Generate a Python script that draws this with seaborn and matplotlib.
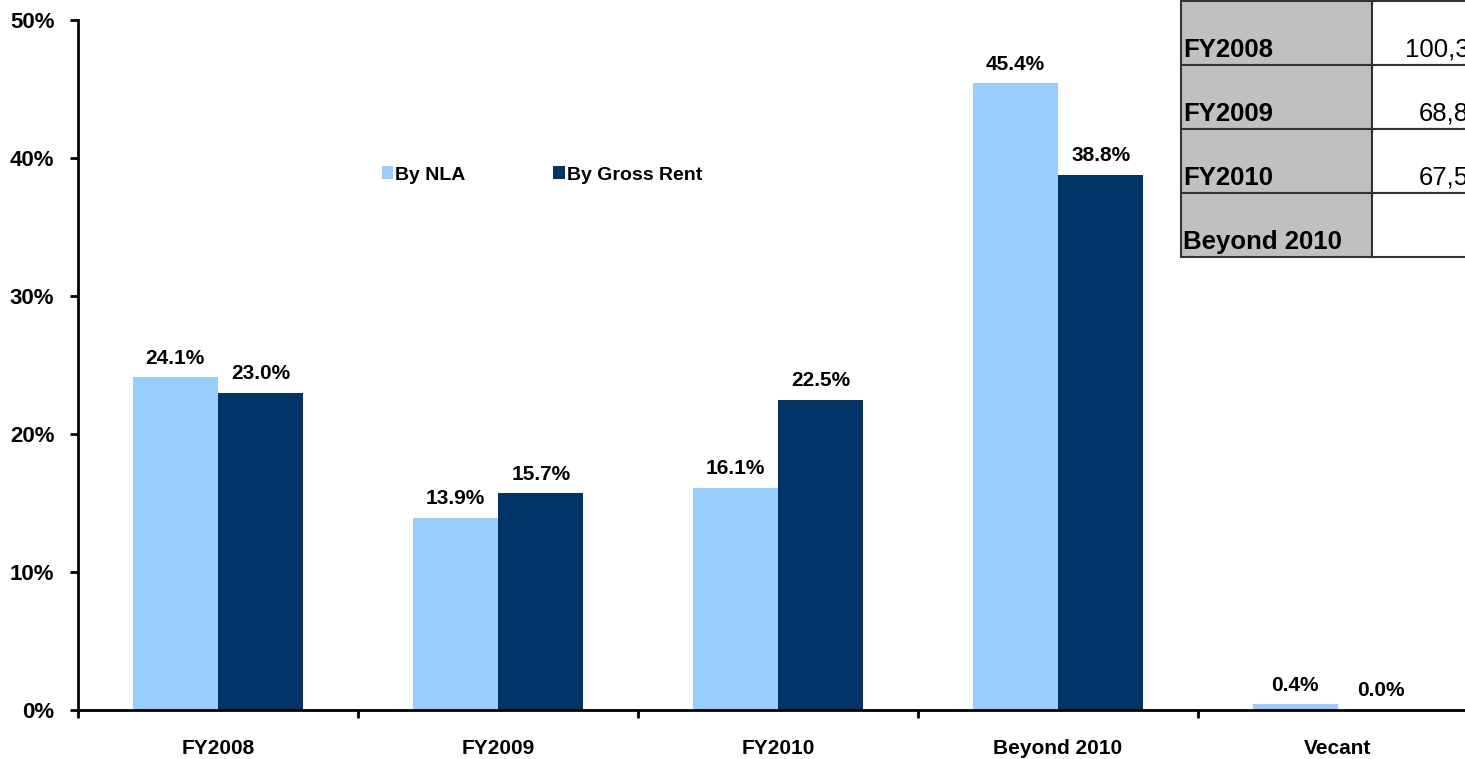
import numpy as np
import pandas as pd
import matplotlib
matplotlib.use("Agg")
import matplotlib.pyplot as plt
import seaborn as sns
from matplotlib.patches import Rectangle
from matplotlib.ticker import FuncFormatter

# chart data
categories = ["FY2008", "FY2009", "FY2010", "Beyond 2010", "Vecant"]
by_nla = [24.1, 13.9, 16.1, 45.4, 0.4]
by_gross_rent = [23.0, 15.7, 22.5, 38.8, 0.0]
series_names = ["By NLA", "By Gross Rent"]
series_colors = ["#99CCFF", "#003366"]

# overlapping table (top right), cut off by the figure edge as in the source
table_rows = ["FY2008", "FY2009", "FY2010", "Beyond 2010"]
table_values = ["100,3", "68,8", "67,5", ""]

df = pd.DataFrame({
    "category": categories * 2,
    "value": by_nla + by_gross_rent,
    "series": [series_names[0]] * len(categories) + [series_names[1]] * len(categories),
})

sns.set_theme(style="white")
plt.rcParams["font.family"] = ["Liberation Sans", "DejaVu Sans"]
plt.rcParams["text.color"] = "black"
plt.rcParams["xtick.color"] = "black"
plt.rcParams["ytick.color"] = "black"

W, H = 1465, 759
fig = plt.figure(figsize=(W / 100, H / 100), dpi=100)
ax = fig.add_axes([78 / W, 1 - 710 / H, 1400 / W, 690 / H])

sns.barplot(data=df, x="category", y="value", hue="series", order=categories,
            hue_order=series_names, palette=series_colors, width=0.61,
            saturation=1, ax=ax, edgecolor="none", linewidth=0)

for cont in ax.containers:
    ax.bar_label(cont, labels=[f"{v:.1f}%" for v in cont.datavalues],
                 padding=7, fontsize=15, fontweight="bold", color="black")

ax.set_xlim(-0.5, len(categories) - 0.5)
ax.set_ylim(0, 50)
ax.set_yticks(np.arange(0, 51, 10))
ax.yaxis.set_major_formatter(FuncFormatter(lambda v, p: f"{v:.0f}%"))
ax.set_xlabel("")
ax.set_ylabel("")

# ticks at the category boundaries, labels centred
ax.set_xticks(np.arange(len(categories)))
ax.set_xticklabels(categories, fontsize=15, fontweight="bold")
ax.set_xticks(np.arange(len(categories) + 1) - 0.5, minor=True)
ax.tick_params(axis="x", which="major", length=0, pad=21)
ax.tick_params(axis="x", which="minor", length=6, width=2, direction="out", color="black", bottom=True)
ax.tick_params(axis="y", length=6, width=2, direction="out", color="black", left=True,
               labelsize=16, pad=11)
for lab in ax.get_yticklabels():
    lab.set_fontweight("bold")

for s in ["top", "right"]:
    ax.spines[s].set_visible(False)
for s in ["left", "bottom"]:
    ax.spines[s].set_color("black")
    ax.spines[s].set_linewidth(2)

leg = ax.legend(loc="upper left", bbox_to_anchor=(286 / 1400, 1 - 129 / 690), ncol=2,
                frameon=False, handlelength=0.6, handleheight=0.6, handletextpad=0.1,
                columnspacing=4.5, prop={"weight": "bold", "size": 14})

# table overlay in pixel coordinates
def px(x, y):
    return x / W, 1 - y / H

row_edges = [1, 65, 129, 193, 257]
value_left = [1405, 1419, 1419, 1419]
x0, x1, x2 = 1181, 1372, 1480
for i, (name, val) in enumerate(zip(table_rows, table_values)):
    top, bot = row_edges[i], row_edges[i + 1]
    fig.patches.append(Rectangle(px(x0, bot), (x1 - x0) / W, (bot - top) / H,
                                 transform=fig.transFigure, facecolor="#C0C0C0",
                                 edgecolor="#333333", linewidth=1.5, zorder=5))
    fig.patches.append(Rectangle(px(x1, bot), (x2 - x1) / W, (bot - top) / H,
                                 transform=fig.transFigure, facecolor="white",
                                 edgecolor="#333333", linewidth=1.5, zorder=5))
    fig.text(*px(x0 + 2, bot - 8), name, fontsize=18.5, fontweight="bold",
             ha="left", va="baseline", zorder=6)
    if val:
        fig.text(*px(value_left[i], bot - 8), val, fontsize=18.5, ha="left",
                 va="baseline", zorder=6)

fig.savefig("out.png", dpi=100)
